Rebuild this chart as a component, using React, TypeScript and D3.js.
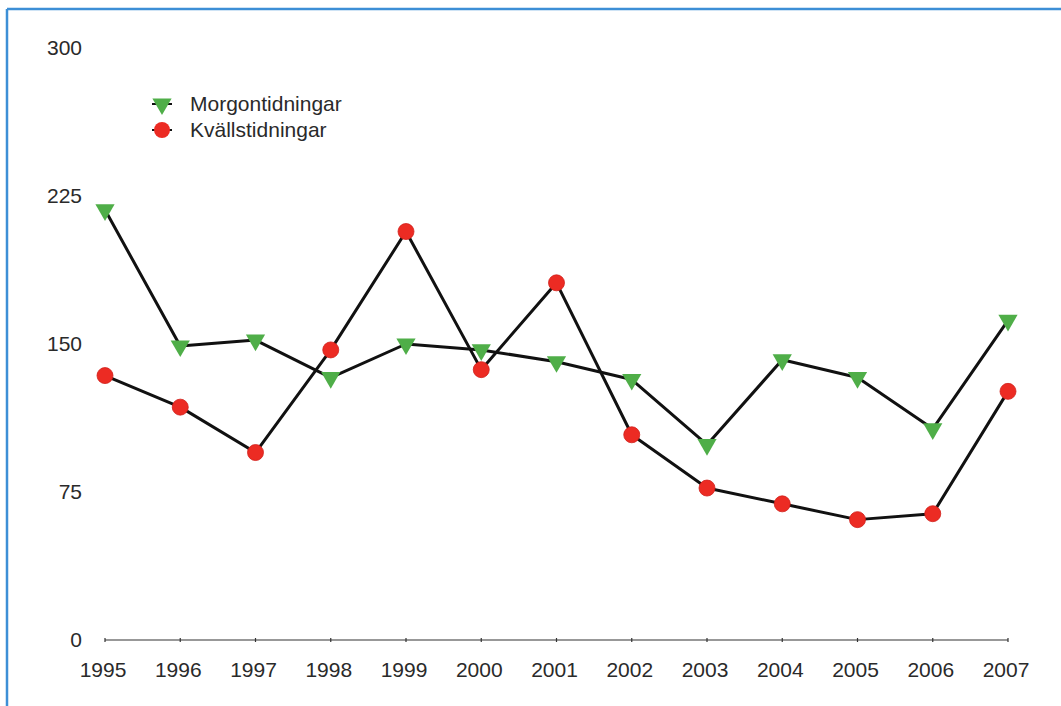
import React, { useEffect, useRef } from 'react';
import * as d3 from 'd3';

const years = [1995, 1996, 1997, 1998, 1999, 2000, 2001, 2002, 2003, 2004, 2005, 2006, 2007];
const morgon = [218, 149, 152, 133, 150, 147, 141, 132, 99, 142, 133, 107, 162];
const kvall = [134, 118, 95, 147, 207, 137, 181, 104, 77, 69, 61, 64, 126];
const yTicks = [0, 75, 150, 225, 300];
const seriesNames = ['Morgontidningar', 'Kvällstidningar'];

const GREEN = '#4fae48';
const RED = '#ec2b23';
const FONT = '"Liberation Sans", Arial, Helvetica, sans-serif';

const App: React.FC = () => {
  const svgRef = useRef<SVGSVGElement>(null);

  useEffect(() => {
    if (!svgRef.current) {
      return;
    }
    const width = 1061;
    const height = 706;
    const svg = d3.select(svgRef.current);
    svg.selectAll('*').remove();
    svg.attr('width', width).attr('height', height).attr('viewBox', `0 0 ${width} ${height}`);

    svg.append('rect').attr('width', width).attr('height', height).attr('fill', '#ffffff');

    // frame (only top and left edges show)
    svg.append('line').attr('x1', 7).attr('x2', width).attr('y1', 9).attr('y2', 9)
      .attr('stroke', '#3d8fd6').attr('stroke-width', 2.5);
    svg.append('line').attr('x1', 7).attr('x2', 7).attr('y1', 9).attr('y2', height)
      .attr('stroke', '#3d8fd6').attr('stroke-width', 2.5);

    const x = d3.scaleLinear().domain([1995, 2007]).range([105, 1008]);
    const y = d3.scaleLinear().domain([0, 300]).range([640, 48]);

    // x axis
    svg.append('line').attr('x1', x(1995)).attr('x2', x(2007)).attr('y1', y(0)).attr('y2', y(0))
      .attr('stroke', '#333').attr('stroke-width', 1.2);
    years.forEach((yr) => {
      svg.append('line').attr('x1', x(yr)).attr('x2', x(yr)).attr('y1', y(0) - 2).attr('y2', y(0) + 2)
        .attr('stroke', '#333').attr('stroke-width', 1.2);
      svg.append('text')
        .attr('x', x(yr) - 2)
        .attr('y', 677)
        .attr('text-anchor', 'middle')
        .attr('font-family', FONT)
        .attr('font-size', '21px')
        .attr('fill', '#2a2a2a')
        .text(String(yr));
    });

    // y labels
    yTicks.forEach((t) => {
      svg.append('text')
        .attr('x', 82)
        .attr('y', y(t) + 7)
        .attr('text-anchor', 'end')
        .attr('font-family', FONT)
        .attr('font-size', '21px')
        .attr('fill', '#2a2a2a')
        .text(String(t));
    });

    const line = d3.line<number>()
      .x((_, i) => x(years[i]))
      .y((d) => y(d));

    const tri = d3.symbol().type(d3.symbolTriangle).size(160);

    [morgon, kvall].forEach((vals) => {
      svg.append('path').attr('d', line(vals) || '').attr('fill', 'none')
        .attr('stroke', '#111').attr('stroke-width', 3).attr('stroke-linejoin', 'round');
    });

    svg.append('g').selectAll('path').data(morgon).enter().append('path')
      .attr('d', tri() || '')
      .attr('transform', (d, i) => `translate(${x(years[i])},${y(d)}) rotate(180)`)
      .attr('fill', GREEN);

    svg.append('g').selectAll('circle').data(kvall).enter().append('circle')
      .attr('cx', (_, i) => x(years[i]))
      .attr('cy', (d) => y(d))
      .attr('r', 8)
      .attr('fill', RED)
      .attr('stroke', '#d0201a')
      .attr('stroke-width', 0.8);

    // legend
    const legend = svg.append('g').attr('transform', 'translate(162, 104)');
    seriesNames.forEach((name, i) => {
      const g = legend.append('g').attr('transform', `translate(0, ${i * 26})`);
      g.append('line').attr('x1', -10).attr('x2', 10).attr('y1', 0).attr('y2', 0)
        .attr('stroke', '#111').attr('stroke-width', 2);
      if (i === 0) {
        g.append('path').attr('d', tri() || '').attr('transform', 'rotate(180)').attr('fill', GREEN);
      } else {
        g.append('circle').attr('r', 8).attr('fill', RED);
      }
      g.append('text')
        .attr('x', 28)
        .attr('y', 7)
        .attr('font-family', FONT)
        .attr('font-size', '21px')
        .attr('fill', '#2a2a2a')
        .text(name);
    });
  }, []);

  return (
    <div style={{ position: 'absolute', left: 0, top: 0 }}>
      <svg ref={svgRef} style={{ display: 'block' }} />
    </div>
  );
};

export default App;
